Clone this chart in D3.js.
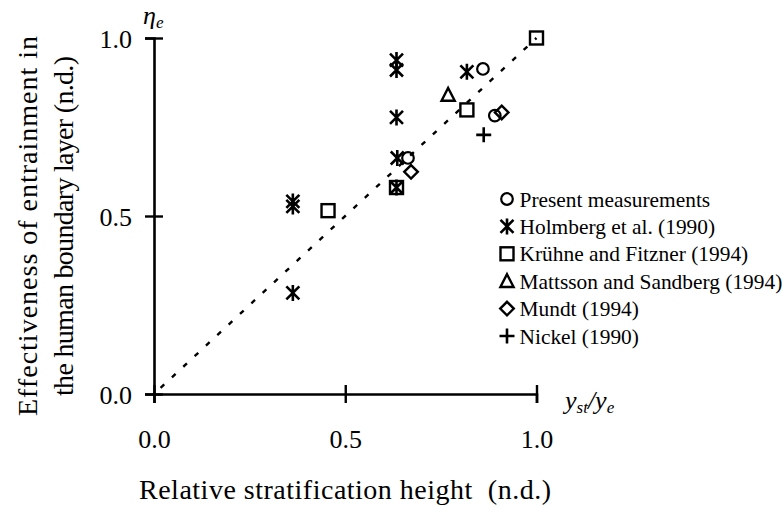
<!DOCTYPE html>
<html>
<head>
<meta charset="utf-8">
<script src="https://cdn.jsdelivr.net/npm/d3@7"></script>
<style>
  html, body { margin: 0; padding: 0; background: #fff; }
  svg text { font-family: "Liberation Serif", "Times New Roman", Times, "DejaVu Serif", serif !important; fill: #000; }
</style>
</head>
<body>
<svg id="chart" width="784" height="506"></svg>
<script>
// ---- data ----
const categories = [
  "Present measurements",
  "Holmberg et al. (1990)",
  "Krühne and Fitzner (1994)",
  "Mattsson and Sandberg (1994)",
  "Mundt (1994)",
  "Nickel (1990)"
];
const markerTypes = ["circle", "asterisk", "square", "triangle", "diamond", "plus"];

const presentX  = [0.664, 0.860, 0.891];
const presentY  = [0.663, 0.913, 0.782];
const holmbergX = [0.363, 0.363, 0.363, 0.634, 0.634, 0.634, 0.636, 0.634, 0.818];
const holmbergY = [0.541, 0.527, 0.284, 0.938, 0.910, 0.777, 0.663, 0.580, 0.905];
const kruhneX   = [0.455, 0.634, 0.818, 1.000];
const kruhneY   = [0.515, 0.580, 0.798, 1.000];
const mattssonX = [0.769];
const mattssonY = [0.840];
const mundtX    = [0.672, 0.909];
const mundtY    = [0.624, 0.791];
const nickelX   = [0.862];
const nickelY   = [0.728];

const seriesX = [presentX, holmbergX, kruhneX, mattssonX, mundtX, nickelX];
const seriesY = [presentY, holmbergY, kruhneY, mattssonY, mundtY, nickelY];

const xTicks = [0, 0.5, 1.0];
const yTicks = [0, 0.5, 1.0];
const tickLabels = ["0.0", "0.5", "1.0"];
const fitLineX = [0, 1];
const fitLineY = [0, 1];

// ---- chart ----
const FONT = '"Liberation Serif", "Times New Roman", Times, "DejaVu Serif", serif';
const svg = d3.select("#chart");
const x = d3.scaleLinear().domain([0, 1]).range([154, 536.5]);
const y = d3.scaleLinear().domain([0, 1]).range([394, 38]);

// dashed fit line
svg.append("path")
  .datum(fitLineX.map((v, i) => [v, fitLineY[i]]))
  .attr("d", d3.line().x(d => x(d[0])).y(d => y(d[1])))
  .attr("fill", "none")
  .attr("stroke", "#000")
  .attr("stroke-width", 2.4)
  .attr("stroke-dasharray", "5,10.5")
  .attr("stroke-dashoffset", -9);

// axes
const xAxis = svg.append("g").attr("transform", `translate(0,${y(0)})`)
  .call(d3.axisBottom(x).tickValues(xTicks).tickSizeOuter(0).tickSize(9)
        .tickFormat((d, i) => tickLabels[i]));
xAxis.attr("font-family", FONT).attr("font-size", 26);
xAxis.selectAll(".tick line").attr("y1", -9).attr("y2", 9);
xAxis.selectAll(".tick text").attr("y", 54).attr("dy", null)
  .attr("font-family", FONT).style("font-size", "26px");

const yAxis = svg.append("g").attr("transform", `translate(${x(0)},0)`)
  .call(d3.axisLeft(y).tickValues(yTicks).tickSizeOuter(0).tickSize(9)
        .tickFormat((d, i) => tickLabels[i]));
yAxis.attr("font-family", FONT).attr("font-size", 26);
yAxis.selectAll(".tick line").attr("x1", -9).attr("x2", 9);
yAxis.selectAll(".tick text").attr("x", -22).attr("dy", "0.35em")
  .attr("font-family", FONT).style("font-size", "26px");

[xAxis, yAxis].forEach(g => {
  g.select(".domain").attr("stroke", "#000").attr("stroke-width", 2.6);
  g.selectAll(".tick line").attr("stroke", "#000").attr("stroke-width", 2.4);
});

// marker drawing
function drawMarker(g, type, cx, cy) {
  const s = { fill: "none", stroke: "#000" };
  if (type === "circle") {
    g.append("circle").attr("cx", cx).attr("cy", cy).attr("r", 5.8)
      .attr("fill", s.fill).attr("stroke", s.stroke).attr("stroke-width", 2.2);
  } else if (type === "square") {
    g.append("rect").attr("x", cx - 6.5).attr("y", cy - 6.5).attr("width", 13).attr("height", 13)
      .attr("fill", s.fill).attr("stroke", s.stroke).attr("stroke-width", 2.4);
  } else if (type === "triangle") {
    g.append("path").attr("d", `M${cx},${cy - 7}L${cx + 6.6},${cy + 5.8}L${cx - 6.6},${cy + 5.8}Z`)
      .attr("fill", s.fill).attr("stroke", s.stroke).attr("stroke-width", 2.4).attr("stroke-linejoin", "miter");
  } else if (type === "diamond") {
    g.append("path").attr("d", `M${cx},${cy - 6.8}L${cx + 6.8},${cy}L${cx},${cy + 6.8}L${cx - 6.8},${cy}Z`)
      .attr("fill", s.fill).attr("stroke", s.stroke).attr("stroke-width", 2.4);
  } else if (type === "plus") {
    g.append("path").attr("d", `M${cx - 7.5},${cy}H${cx + 7.5}M${cx},${cy - 7.5}V${cy + 7.5}`)
      .attr("fill", "none").attr("stroke", s.stroke).attr("stroke-width", 2.6);
  } else if (type === "asterisk") {
    g.append("path").attr("d",
      `M${cx},${cy - 8}V${cy + 8}M${cx - 6.5},${cy - 6.5}L${cx + 6.5},${cy + 6.5}M${cx - 6.5},${cy + 6.5}L${cx + 6.5},${cy - 6.5}`)
      .attr("fill", "none").attr("stroke", s.stroke).attr("stroke-width", 2.6);
  }
}

const marks = svg.append("g");
categories.forEach((c, ci) => {
  const gs = marks.append("g").attr("class", "series");
  seriesX[ci].forEach((vx, i) => drawMarker(gs, markerTypes[ci], x(vx), y(seriesY[ci][i])));
});

// legend
const legend = svg.append("g").attr("transform", "translate(507,199)");
categories.forEach((c, i) => {
  const row = legend.append("g").attr("transform", `translate(0,${i * 27.4})`);
  drawMarker(row, markerTypes[i], 0, 0);
  row.append("text").attr("x", 12.5).attr("y", 7.5).attr("font-family", FONT)
    .style("font-size", "21.4px").text(c);
});

// axis symbol labels
const eta = svg.append("text").attr("x", 143).attr("y", 24).attr("font-family", FONT)
  .style("font-size", "26px").style("font-style", "italic");
eta.append("tspan").text("η");
eta.append("tspan").attr("dy", 4).style("font-size", "17px").text("e");

const ys = svg.append("text").attr("x", 565).attr("y", 409).attr("font-family", FONT)
  .style("font-size", "26px").style("font-style", "italic");
ys.append("tspan").text("y");
ys.append("tspan").attr("dy", 4).style("font-size", "17px").text("st");
ys.append("tspan").attr("dy", -4).text("/y");
ys.append("tspan").attr("dy", 4).style("font-size", "17px").text("e");

// axis titles
svg.append("text").attr("x", 345).attr("y", 499).attr("text-anchor", "middle").attr("font-family", FONT)
  .style("font-size", "28px").attr("textLength", 412).attr("lengthAdjust", "spacing")
  .text("Relative stratification height\u00a0\u00a0(n.d.)");

svg.append("text").attr("transform", "translate(37,226) rotate(-90)").attr("text-anchor", "middle").attr("font-family", FONT)
  .style("font-size", "28px").attr("textLength", 380).attr("lengthAdjust", "spacing")
  .text("Effectiveness of entrainment in");
svg.append("text").attr("transform", "translate(73,226) rotate(-90)").attr("text-anchor", "middle").attr("font-family", FONT)
  .style("font-size", "28px").attr("textLength", 340).attr("lengthAdjust", "spacing")
  .text("the human boundary layer (n.d.)");
</script>
</body>
</html>
